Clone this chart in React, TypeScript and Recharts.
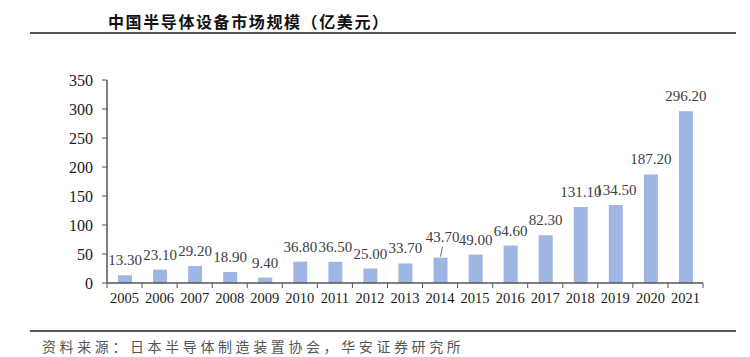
import React from 'react';
import { BarChart, Bar, XAxis, YAxis, LabelList } from 'recharts';

const years = ['2005', '2006', '2007', '2008', '2009', '2010', '2011', '2012', '2013', '2014', '2015', '2016', '2017', '2018', '2019', '2020', '2021'];
const marketSize = [13.3, 23.1, 29.2, 18.9, 9.4, 36.8, 36.5, 25.0, 33.7, 43.7, 49.0, 64.6, 82.3, 131.1, 134.5, 187.2, 296.2];
const yTicks = [0, 50, 100, 150, 200, 250, 300, 350];
// labels that were pulled up with a leader line in the original
const raisedLabels = ['2014'];

const title = '中国半导体设备市场规模（亿美元）';
const source = '资料来源：日本半导体制造装置协会，华安证券研究所';

const data = years.map((year, i) => ({ year, value: marketSize[i] }));

const W = 750;
const H = 357;
const PLOT_LEFT = 107;
const PLOT_RIGHT = 703;
const PLOT_TOP = 80;
const PLOT_BOTTOM = 283;
const X_AXIS_H = 30;
const BAND = (PLOT_RIGHT - PLOT_LEFT) / years.length;
const SERIF = '"Liberation Serif", "Times New Roman", serif';
const CJK = '"Noto Sans CJK SC", sans-serif';

function XTick(props: any) {
    const { x, y, payload, index } = props;
    const half = BAND / 2;
    return (
        <g>
            <line x1={x - half} x2={x - half} y1={y} y2={y + 5} stroke="#555" strokeWidth={1} />
            {index === years.length - 1 && (
                <line x1={x + half} x2={x + half} y1={y} y2={y + 5} stroke="#555" strokeWidth={1} />
            )}
            <text x={x} y={y + 20} textAnchor="middle" fontFamily={SERIF} fontSize={14.5} fill="#1a1a1a">
                {payload.value}
            </text>
        </g>
    );
}

function ValueLabel(props: any) {
    const { x, y, width, value, index } = props;
    const cx = x + width / 2;
    const fmt = Number(value).toFixed(2);
    if (raisedLabels.includes(years[index])) {
        return (
            <g>
                <line x1={cx} y1={y - 1} x2={cx + 2} y2={y - 11} stroke="#666" strokeWidth={1} />
                <text x={cx + 2} y={y - 16} textAnchor="middle" fontFamily={SERIF} fontSize={15} fill="#404040">
                    {fmt}
                </text>
            </g>
        );
    }
    return (
        <text x={cx} y={y - 10} textAnchor="middle" fontFamily={SERIF} fontSize={15} fill="#404040">
            {fmt}
        </text>
    );
}

export default function App() {
    return (
        <div style={{ position: 'absolute', left: 0, top: 0, width: W, height: H, background: '#fff' }}>
            <div
                style={{
                    position: 'absolute',
                    left: 108,
                    top: 10,
                    fontFamily: CJK,
                    fontWeight: 700,
                    fontSize: 16,
                    letterSpacing: 1.6,
                    lineHeight: '22px',
                    color: '#111',
                    whiteSpace: 'nowrap',
                }}
            >
                {title}
            </div>
            <div style={{ position: 'absolute', left: 30, top: 32, width: 706, height: 2, background: '#555' }} />
            <div style={{ position: 'absolute', left: 0, top: 0 }}>
                <BarChart
                    width={W}
                    height={H}
                    data={data}
                    margin={{ top: PLOT_TOP, right: W - PLOT_RIGHT, bottom: H - PLOT_BOTTOM - X_AXIS_H, left: 0 }}
                >
                    <XAxis
                        dataKey="year"
                        tickLine={false}
                        tickSize={0}
                        tickMargin={0}
                        height={X_AXIS_H}
                        axisLine={{ stroke: '#555', strokeWidth: 1.5 }}
                        tick={<XTick />}
                        interval={0}
                    />
                    <YAxis
                        width={PLOT_LEFT}
                        domain={[0, 350]}
                        ticks={yTicks}
                        interval={0}
                        tickSize={5}
                        tickMargin={9}
                        axisLine={{ stroke: '#555', strokeWidth: 1.5 }}
                        tickLine={{ stroke: '#555' }}
                        tick={{ fontFamily: SERIF, fontSize: 16, fill: '#1a1a1a' }}
                    />
                    <Bar dataKey="value" fill="#9FB6E3" barSize={14} isAnimationActive={false}>
                        <LabelList dataKey="value" content={<ValueLabel />} />
                    </Bar>
                </BarChart>
            </div>
            <div style={{ position: 'absolute', left: 30, top: 330, width: 706, height: 2, background: '#555' }} />
            <div
                style={{
                    position: 'absolute',
                    left: 42,
                    top: 336,
                    fontFamily: CJK,
                    fontSize: 14,
                    letterSpacing: 3.6,
                    lineHeight: '20px',
                    color: '#555',
                    whiteSpace: 'nowrap',
                }}
            >
                {source}
            </div>
        </div>
    );
}
